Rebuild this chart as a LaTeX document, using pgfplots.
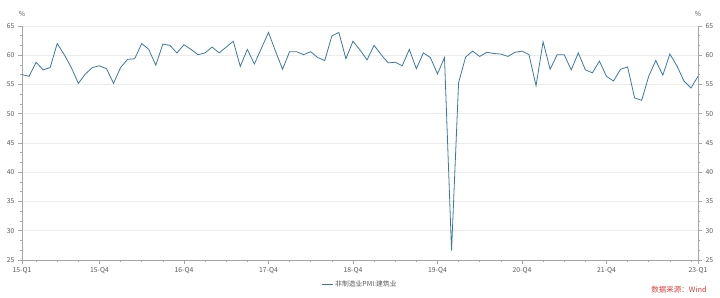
\documentclass[border=0pt]{standalone}
\usepackage{fontspec}
\setmainfont{Noto Sans CJK SC}
\usepackage{pgfplots}
\pgfplotsset{compat=1.18}
\usepackage{pgfplotstable}
\definecolor{lineblue}{RGB}{58,122,160}
\definecolor{axgray}{RGB}{165,165,165}
\definecolor{gridgray}{RGB}{236,236,236}
\definecolor{txtgray}{RGB}{90,90,90}
\definecolor{srcred}{RGB}{225,60,60}

\pgfplotstableread{
i v
0 56.7
1 56.4
2 58.8
3 57.5
4 57.9
5 62.0
6 60.1
7 57.9
8 55.2
9 56.8
10 57.9
11 58.2
12 57.7
13 55.2
14 57.9
15 59.3
16 59.4
17 62.0
18 61.0
19 58.3
20 61.9
21 61.7
22 60.4
23 61.8
24 61.0
25 60.1
26 60.4
27 61.4
28 60.4
29 61.4
30 62.4
31 58.1
32 61.0
33 58.5
34 61.2
35 63.9
36 60.7
37 57.6
38 60.6
39 60.6
40 60.1
41 60.6
42 59.6
43 59.1
44 63.3
45 63.9
46 59.4
47 62.4
48 60.9
49 59.2
50 61.7
51 60.1
52 58.7
53 58.8
54 58.2
55 61.0
56 57.7
57 60.4
58 59.6
59 56.8
60 59.6
61 26.6
62 55.3
63 59.7
64 60.7
65 59.8
66 60.5
67 60.3
68 60.2
69 59.8
70 60.5
71 60.7
72 60.1
73 54.8
74 62.3
75 57.6
76 60.1
77 60.1
78 57.5
79 60.4
80 57.5
81 57.0
82 59.0
83 56.4
84 55.6
85 57.6
86 58.0
87 52.7
88 52.3
89 56.4
90 59.1
91 56.6
92 60.2
93 58.2
94 55.6
95 54.4
96 56.4
}\pmidata

\begin{document}
\begin{tikzpicture}
\pgfplotsset{
  common/.style={
    scale only axis, width=676pt, height=234pt,
    xmin=0, xmax=96, ymin=25, ymax=65,
    ytick={25,30,...,65}, minor y tick num=2,
    tick label style={font=\fontsize{6.8}{7}\selectfont, text=txtgray},
    /pgf/number format/assume math mode=true,
    axis line style={axgray, line width=0.6pt},
    tick style={axgray, line width=0.5pt},
    major tick length=4pt, minor tick length=2pt,
    tick align=outside,
  }
}
\begin{axis}[common,
  axis x line*=bottom, axis y line*=left,
  xtick={0,11,23,35,47,59,71,83,96},
  xticklabels={15-Q1,15-Q4,16-Q4,17-Q4,18-Q4,19-Q4,20-Q4,21-Q4,23-Q1},
  minor xtick={2,5,...,95},
  ymajorgrids, grid style={gridgray, line width=0.5pt},
  clip=false,
  legend style={at={(0.5,0)}, anchor=north, yshift=-19pt, draw=none, fill=none,
    font=\fontsize{6.8}{7}\selectfont, text=txtgray, inner sep=0pt},
  legend image code/.code={\draw[#1] (0pt,0pt) -- (11pt,0pt);},
]
\addplot[lineblue, line width=0.8pt] table[x=i,y=v]{\pmidata};
\addlegendentry{非制造业PMI:建筑业}
\coordinate (bl) at (rel axis cs:0,0);
\coordinate (br) at (rel axis cs:1,0);
\coordinate (tl) at (rel axis cs:0,1);
\coordinate (tr) at (rel axis cs:1,1);
\end{axis}
\begin{axis}[common,
  axis y line*=right, axis x line=none,
]
\end{axis}
\node[text=txtgray, font=\fontsize{6.8}{7}\selectfont] at ([yshift=12pt]tl) {\%};
\node[text=txtgray, font=\fontsize{6.8}{7}\selectfont] at ([yshift=12pt]tr) {\%};
\node[anchor=east, text=srcred, font=\fontsize{7.5}{8}\selectfont, inner sep=0pt] at ([shift={(9pt,-30pt)}]br) {数据来源：Wind};
\pgfresetboundingbox
\path ([shift={(-22pt,-38pt)}]bl) rectangle ([shift={(22pt,26pt)}]tr);
\end{tikzpicture}
\end{document}
